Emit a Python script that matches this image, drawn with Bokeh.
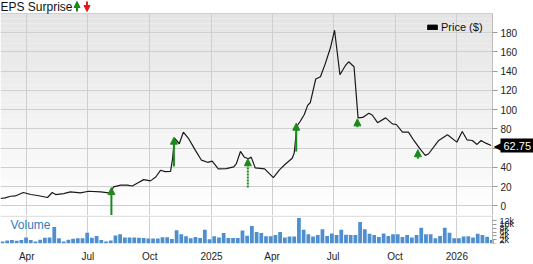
import pandas as pd
from bokeh.plotting import figure
from bokeh.layouts import column
from bokeh.models import (Range1d, FixedTicker, Label, Arrow, NormalHead, BoxAnnotation,
                          Legend, LegendItem, ColumnDataSource, CustomJSTickFormatter)
from bokeh.embed import file_html
from bokeh.resources import INLINE

# ---------------- data ----------------
price_dates = [
    "2024-02-22", "2024-02-29", "2024-03-08", "2024-03-15", "2024-03-27", "2024-04-07",
    "2024-04-17", "2024-05-02", "2024-05-09", "2024-05-14", "2024-05-26", "2024-06-05",
    "2024-06-20", "2024-07-02", "2024-07-20", "2024-08-01", "2024-08-04", "2024-08-08",
    "2024-08-19", "2024-08-29", "2024-09-05", "2024-09-13", "2024-09-22", "2024-10-02",
    "2024-10-10", "2024-10-17", "2024-10-24", "2024-11-01", "2024-11-04", "2024-11-07",
    "2024-11-14", "2024-11-20", "2024-11-28", "2024-12-08", "2024-12-17", "2024-12-26",
    "2025-01-02", "2025-01-11", "2025-01-23", "2025-02-03", "2025-02-07", "2025-02-13",
    "2025-02-19", "2025-02-25", "2025-03-01", "2025-03-07", "2025-03-21", "2025-04-03",
    "2025-04-12", "2025-04-21", "2025-05-01", "2025-05-04", "2025-05-08", "2025-05-13",
    "2025-05-19", "2025-05-24", "2025-05-28", "2025-06-05", "2025-06-12", "2025-06-19",
    "2025-06-27", "2025-07-03", "2025-07-11", "2025-07-19", "2025-07-24", "2025-08-01",
    "2025-08-07", "2025-08-14", "2025-08-23", "2025-08-28", "2025-09-05", "2025-09-17",
    "2025-09-27", "2025-10-03", "2025-10-12", "2025-10-21", "2025-10-29", "2025-11-08",
    "2025-11-15", "2025-11-20", "2025-12-05", "2025-12-18", "2026-01-01", "2026-01-09",
    "2026-01-16", "2026-01-24", "2026-01-31", "2026-02-06", "2026-02-13", "2026-02-21",
]
price_values = [
    7.7, 8.3, 10.0, 10.3, 13.9, 11.8,
    10.8, 8.7, 13.9, 11.8, 12.8, 14.5,
    13.5, 15.2, 14.5, 13.5, 13.2, 19.7,
    21.5, 21.6, 20.7, 23.8, 27.3, 26.0,
    30.0, 37.0, 35.6, 35.9, 49.0, 70.4,
    64.6, 76.6, 69.8, 57.7, 47.5, 45.3,
    46.5, 38.5, 38.8, 40.5, 44.0, 56.6,
    50.5, 49.0, 50.7, 39.5, 38.5, 29.4,
    37.5, 43.5, 49.5, 55.0, 83.0, 88.0,
    95.0, 104.5, 107.5, 131.9, 134.3, 147.4,
    164.6, 182.6, 136.3, 145.7, 149.8, 144.6,
    91.5, 92.0, 96.3, 94.5, 86.5, 91.5,
    85.3, 84.6, 76.6, 76.6, 68.0, 58.4,
    52.5, 54.2, 68.0, 73.9, 66.3, 77.3,
    68.7, 68.0, 63.9, 68.0, 65.2, 62.75,
]
last_price = 62.75

eps_dates = ["2024-08-05", "2024-11-06", "2025-02-24", "2025-05-07", "2025-08-06", "2025-11-04"]
eps_tip = [19.0, 71.4, 49.0, 86.0, 90.5, 58.4]
eps_tail = [-12.0, 41.0, 19.0, 56.6, 81.8, 49.0]
eps_dashed = [False, False, True, False, False, False]

volume_first_week = "2024-02-22"
volume_k = [
    1.1, 1.6, 1.8, 1.4, 1.8, 3.1, 1.9, 1.0, 2.0, 3.0, 3.1, 8.6, 2.7, 1.1, 2.0, 2.5, 2.7, 2.7,
    5.7, 3.0, 4.0, 1.8, 1.0, 1.6, 4.2, 4.8, 3.1, 3.1, 3.1, 3.0, 2.9, 2.6, 2.6, 2.6, 3.3, 3.3,
    2.3, 7.0, 4.8, 3.8, 2.7, 3.4, 2.9, 7.2, 2.2, 3.8, 3.1, 5.5, 2.9, 2.9, 2.9, 6.8, 4.1, 9.2,
    6.1, 5.5, 3.8, 3.8, 4.4, 6.1, 3.1, 3.7, 3.7, 13.4, 7.2, 4.8, 3.7, 4.4, 7.5, 4.0, 5.2, 4.4,
    7.2, 4.6, 4.4, 4.4, 11.3, 7.5, 5.1, 4.5, 3.4, 5.2, 4.0, 4.8, 4.8, 3.4, 4.4, 3.1, 4.5, 8.3,
    4.8, 4.8, 2.7, 4.0, 8.3, 5.6, 2.7, 2.7, 3.7, 3.8, 3.1, 5.1, 4.5, 3.6, 1.8,
]

x_tick_dates = ["2024-04-01", "2024-07-01", "2024-10-01", "2025-01-01",
                "2025-04-01", "2025-07-01", "2025-10-01", "2026-01-01"]
x_tick_labels = ["Apr", "Jul", "Oct", "2025", "Apr", "Jul", "Oct", "2026"]
price_ticks = [0, 20, 40, 60, 80, 100, 120, 140, 160, 180]
vol_ticks = [0, 2, 4, 6, 8, 10, 12]
vol_tick_labels = ["0", "2k", "4k", "6k", "8k", "10k", "12k"]

# ---------------- layout constants / style ----------------
FONT = "Liberation Sans"
GRID = "#cfcfcf"
GREEN = "#1b8a1b"
RED = "#e3191b"
DAY_MS = 86400000.0

W, H1, H2 = 533, 215, 49
AXIS_W, TOP_H = 41, 13            # right axis strip width, title strip height (px)
PLOT_W = W - AXIS_W               # data area width (px)
Y_LO, Y_HI = -10.0, 200.0
Y_TOP = Y_HI + TOP_H * (Y_HI - Y_LO) / (H1 - TOP_H)
V_HI = 14.7
V_BAND = 13.9


def ms(d):
    return pd.Timestamp(d).value / 1e6


x_start = ms("2024-02-22")
x_end = ms("2026-02-23")
x_full_end = x_end + AXIS_W * (x_end - x_start) / PLOT_W
xr = Range1d(x_start, x_full_end)

tick_ms = [ms(d) for d in x_tick_dates]
xticker = FixedTicker(ticks=tick_ms)


def style_yaxis(ax, ticks, size):
    ax.ticker = FixedTicker(ticks=ticks)
    ax.fixed_location = x_end
    ax.axis_line_color = "#bdbdbd"
    ax.major_tick_line_color = "#999999"
    ax.major_tick_out = 5
    ax.major_tick_in = 0
    ax.minor_tick_line_color = None
    ax.major_label_standoff = 3
    ax.major_label_text_font = FONT
    ax.major_label_text_font_size = size
    ax.major_label_text_color = "#222222"


# ---------------- price panel ----------------
p1 = figure(width=W, height=H1, x_range=xr, y_range=Range1d(Y_LO, Y_TOP), title=None,
            x_axis_type="datetime", y_axis_location="right",
            output_backend="svg", toolbar_location=None, min_border=0)
p1.xaxis.visible = False
p1.xgrid.ticker = xticker
p1.xgrid.grid_line_color = GRID
p1.ygrid.ticker = FixedTicker(ticks=price_ticks + [Y_HI])
p1.ygrid.grid_line_color = GRID
p1.outline_line_color = None
p1.background_fill_color = "white"
p1.border_fill_color = "white"
style_yaxis(p1.yaxis[0], price_ticks, "10px")
p1.yaxis[0].bounds = (Y_LO, Y_HI)

# background gradient (light grey at the top, white at the bottom)
n_bands = 40
bands_b, bands_t, bands_c = [], [], []
for i in range(n_bands):
    b = Y_LO + (Y_HI - Y_LO) * i / n_bands
    t = Y_LO + (Y_HI - Y_LO) * (i + 1) / n_bands
    f = (i + 0.5) / n_bands
    g = int(round(255 - 27 * f))
    bands_b.append(b)
    bands_t.append(t)
    bands_c.append("#%02x%02x%02x" % (g, g, g))
grad = p1.quad(left=x_start, right=x_end, bottom="b", top="t", fill_color="c", line_color=None,
               source=ColumnDataSource(dict(b=bands_b, t=bands_t, c=bands_c)))
grad.level = "image"

# white masks over the title strip and the axis strip (above grid, below glyphs/axis)
p1.add_layout(BoxAnnotation(bottom=Y_HI + 0.5, fill_color="white", fill_alpha=1,
                            line_color=None, level="underlay"))
p1.add_layout(BoxAnnotation(left=x_end, fill_color="white", fill_alpha=1,
                            line_color=None, level="underlay"))

p1.line(x=[ms(d) for d in price_dates], y=price_values, line_color="#1a1a1a", line_width=1.2)

for d, tip, tail, dashed in zip(eps_dates, eps_tip, eps_tail, eps_dashed):
    p1.add_layout(Arrow(x_start=ms(d), y_start=tail, x_end=ms(d), y_end=tip,
                        line_color=GREEN, line_width=2,
                        line_dash="2 1" if dashed else "solid",
                        end=NormalHead(size=7, fill_color=GREEN, line_color=GREEN, line_width=1)))

# legend swatch (a renderer kept outside the visible range, used only for the legend)
dummy = p1.quad(left=[x_start], right=[x_start], top=[Y_LO - 100], bottom=[Y_LO - 101],
                fill_color="black", line_color="black")
legend = Legend(items=[LegendItem(label="Price ($)", renderers=[dummy])],
                location=(426, H1 - 33), background_fill_alpha=0, border_line_color=None,
                label_text_font=FONT, label_text_font_size="11px", label_text_color="#111111",
                glyph_width=12, glyph_height=6, label_standoff=3, margin=0, padding=3)
p1.add_layout(legend)

# title with its two small arrows
ty = H1 - 6
p1.add_layout(Label(x=0, y=ty, x_units="screen", y_units="screen", text="EPS Surprise",
                    text_font=FONT, text_font_size="12px", text_color="#111111",
                    text_baseline="middle"))
p1.add_layout(Arrow(x_start=76.5, y_start=ty - 5, x_end=76.5, y_end=ty + 5,
                    start_units="screen", end_units="screen", line_color=GREEN, line_width=2,
                    end=NormalHead(size=6, fill_color=GREEN, line_color=GREEN, line_width=1)))
p1.add_layout(Arrow(x_start=86.5, y_start=ty + 5, x_end=86.5, y_end=ty - 5,
                    start_units="screen", end_units="screen", line_color=RED, line_width=2,
                    end=NormalHead(size=6, fill_color=RED, line_color=RED, line_width=1)))

# last price tag
p1.add_layout(Label(x=x_end, y=last_price, x_offset=1, text="◀", text_font="DejaVu Sans",
                    text_font_size="12px", text_color="black", text_baseline="middle"))
p1.add_layout(Label(x=x_end, y=last_price, x_offset=8, text="%.2f" % last_price,
                    text_font=FONT, text_font_size="11px", text_color="white",
                    background_fill_color="black", text_baseline="middle", padding=3))

# ---------------- volume panel ----------------
p2 = figure(width=W, height=H2, x_range=xr, y_range=Range1d(0, V_HI), title=None,
            x_axis_type="datetime", y_axis_location="right",
            output_backend="svg", toolbar_location=None,
            min_border_left=0, min_border_right=0, min_border_top=0, min_border_bottom=12)
p2.outline_line_color = None
p2.ygrid.grid_line_color = None
p2.xgrid.ticker = xticker
p2.xgrid.grid_line_color = GRID
style_yaxis(p2.yaxis[0], vol_ticks, "9px")
p2.yaxis[0].major_label_overrides = {t: l for t, l in zip(vol_ticks, vol_tick_labels)}
p2.yaxis[0].major_tick_out = 4

wk = pd.date_range(volume_first_week, periods=len(volume_k), freq="7D")
vx = [t.value / 1e6 + 3 * DAY_MS for t in wk]
p2.vbar(x=vx, top=volume_k, width=5.6 * DAY_MS, fill_color="#4f8fd0", line_color=None)

p2.add_layout(BoxAnnotation(bottom=V_BAND, right=x_end, fill_color="#e2e2e2", fill_alpha=1,
                            line_color=None))
p2.add_layout(Label(x=x_start, y=9.9, x_offset=10, text="Volume", text_font=FONT,
                    text_font_size="12px", text_color="#2f7ec4", text_baseline="middle"))

xax = p2.xaxis[0]
xax.ticker = xticker
xax.formatter = CustomJSTickFormatter(args=dict(tvals=tick_ms, tlabels=x_tick_labels),
                                      code="const i = tvals.indexOf(tick); return i >= 0 ? tlabels[i] : '';")
xax.axis_line_color = None
xax.major_tick_line_color = None
xax.minor_tick_line_color = None
xax.major_label_standoff = 1
xax.major_label_text_font = FONT
xax.major_label_text_font_size = "10px"
xax.major_label_text_color = "#222222"

layout = column(p1, p2, spacing=0)
open("out.html", "w").write(file_html(layout, INLINE))
